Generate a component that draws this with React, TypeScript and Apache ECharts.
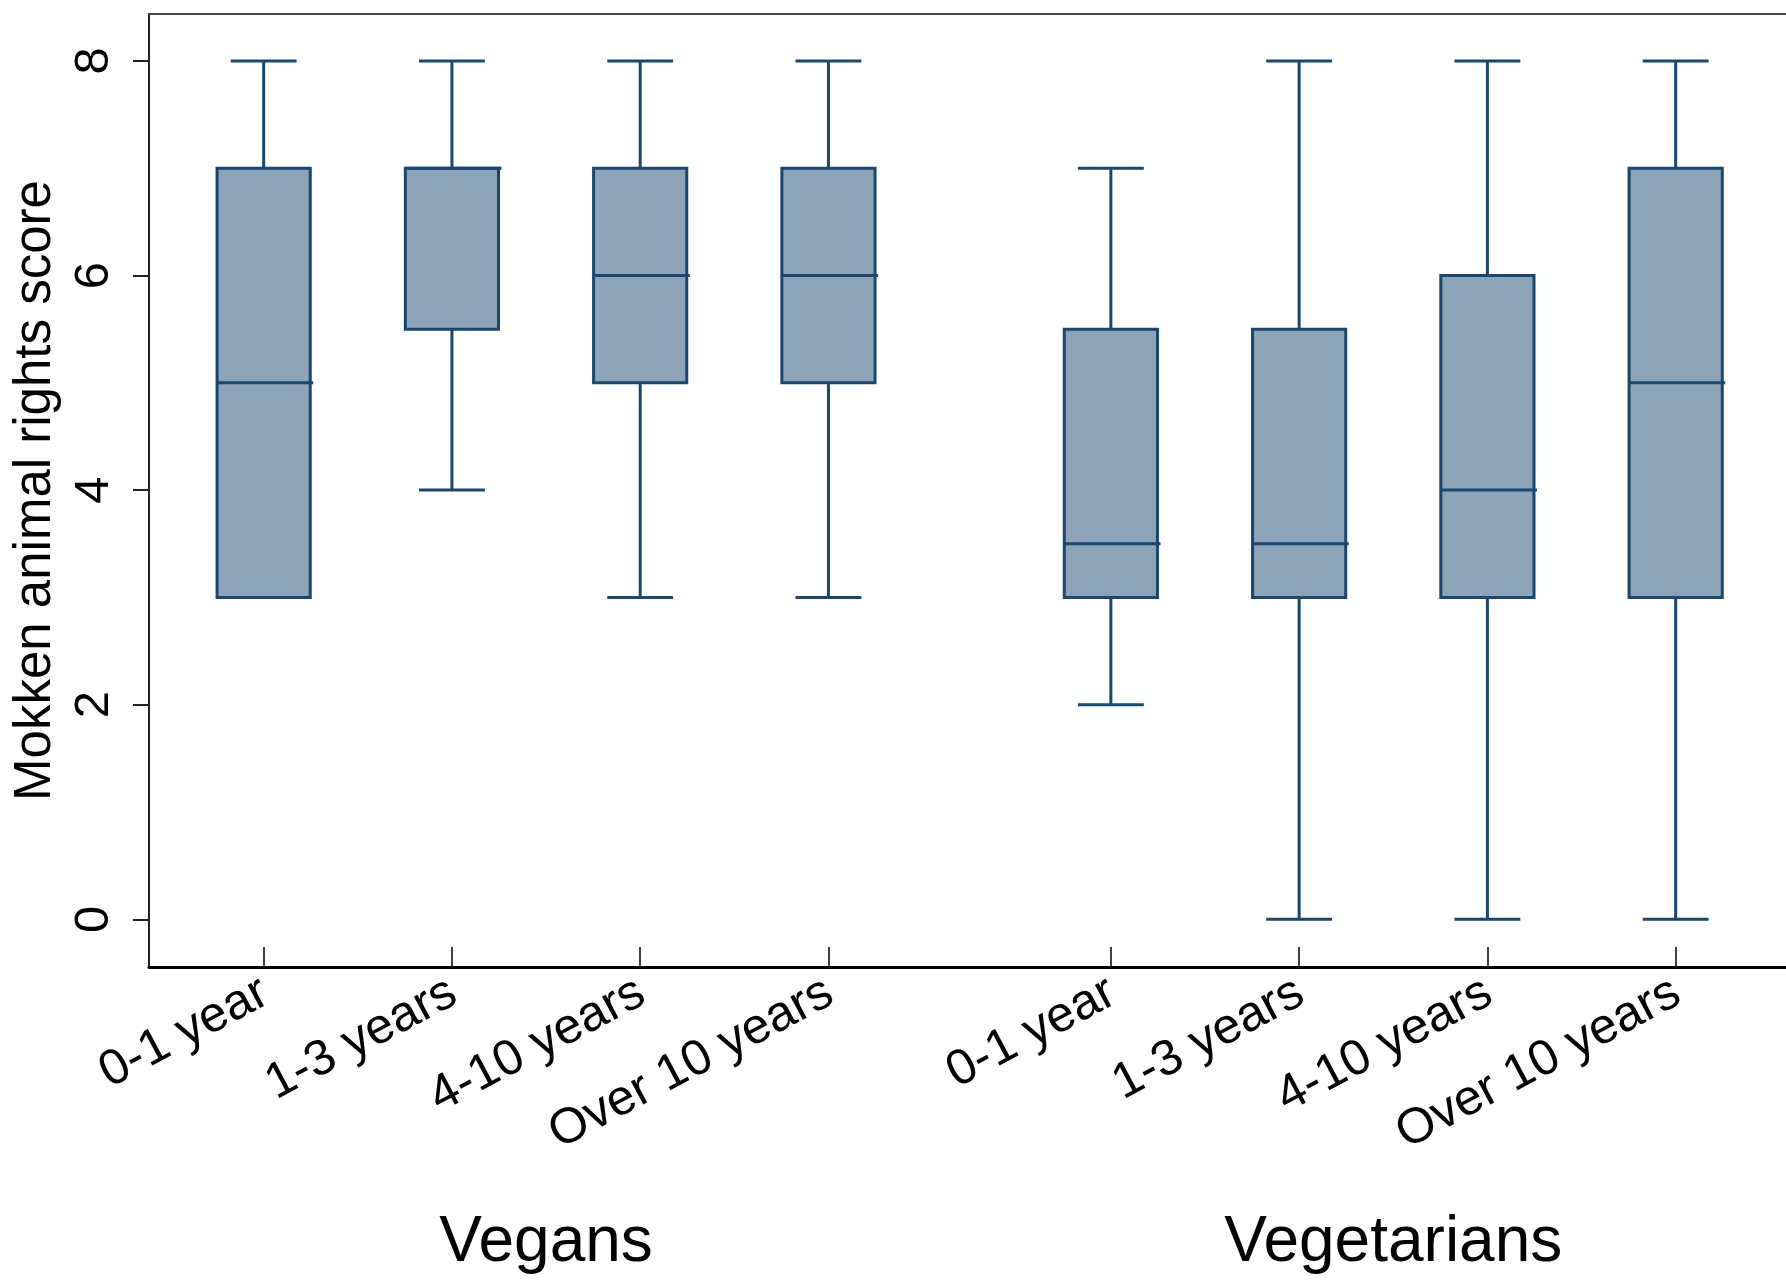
import React, { useEffect, useRef } from "react";
import * as echarts from "echarts";

// Category labels (same for both groups)
const durationLabels = ["0-1 year", "1-3 years", "4-10 years", "Over 10 years"];
const groupNames = ["Vegans", "Vegetarians"];

// Box statistics: [min, Q1, median, Q3, max]
const vegansStats = [
  [3, 3, 5, 7, 8],
  [4, 5.5, 7, 7, 8],
  [3, 5, 6, 7, 8],
  [3, 5, 6, 7, 8],
];
const vegetariansStats = [
  [2, 3, 3.5, 5.5, 7],
  [0, 3, 3.5, 5.5, 8],
  [0, 3, 4, 6, 8],
  [0, 3, 5, 7, 8],
];

const yTicks = [0, 2, 4, 6, 8];

// x positions of the boxes on the value axis (groups separated by a half-slot gap)
const veganX = [1, 2, 3, 4];
const vegetarianX = [5.5, 6.5, 7.5, 8.5];
const groupCenters = [2.5, 7];

const FONT = "'Liberation Sans', Arial, 'DejaVu Sans', sans-serif";
const FILL = "#8da3b7";
const STROKE = "#1a476f";

export default function App() {
  const ref = useRef<HTMLDivElement>(null);

  useEffect(() => {
    document.body.style.margin = "0";
    if (!ref.current) return;
    const chart = echarts.init(ref.current, null, { renderer: "svg" });

    const allX = [...veganX, ...vegetarianX];
    const allLabels = [...durationLabels, ...durationLabels];
    const data = [
      ...vegansStats.map((s, i) => [veganX[i], ...s]),
      ...vegetariansStats.map((s, i) => [vegetarianX[i], ...s]),
    ];

    const findLabel = (v: number, xs: number[], labels: string[]) => {
      for (let i = 0; i < xs.length; i++) {
        if (Math.abs(xs[i] - v) < 1e-6) return labels[i];
      }
      return "";
    };

    const xMin = 0.391;
    const xMax = 9.086;

    const option: any = {
      animation: false,
      backgroundColor: "#ffffff",
      grid: {
        left: 149,
        right: 0,
        top: 14,
        bottom: 318,
        containLabel: false,
        outerBoundsMode: "none",
      },
      xAxis: [
        {
          type: "value",
          position: "bottom",
          min: xMin,
          max: xMax,
          splitLine: { show: false },
          axisLine: { show: true, onZero: false, lineStyle: { color: "#000", width: 3 } },
          axisTick: {
            show: true,
            inside: true,
            length: 20,
            customValues: allX,
            lineStyle: { color: "#000", width: 1.5 },
          },
          axisLabel: {
            show: true,
            customValues: allX,
            rotate: 28,
            margin: 20,
            fontSize: 50,
            fontFamily: FONT,
            color: "#000",
            formatter: (v: number) => findLabel(v, allX, allLabels),
          },
        },
        {
          type: "value",
          position: "top",
          min: xMin,
          max: xMax,
          splitLine: { show: false },
          axisLine: { show: true, onZero: false, lineStyle: { color: "#444", width: 2 } },
          axisTick: { show: false },
          axisLabel: { show: false },
        },
        {
          type: "value",
          position: "bottom",
          min: xMin,
          max: xMax,
          splitLine: { show: false },
          axisLine: { show: false, onZero: false },
          axisTick: { show: false },
          axisLabel: {
            show: true,
            customValues: groupCenters,
            margin: 240,
            fontSize: 64,
            fontFamily: FONT,
            color: "#000",
            formatter: (v: number) => findLabel(v, groupCenters, groupNames),
          },
        },
      ],
      yAxis: {
        type: "value",
        min: -0.445,
        max: 8.438,
        splitLine: { show: false },
        axisLine: { show: true, onZero: false, lineStyle: { color: "#222", width: 2 } },
        axisTick: {
          show: true,
          length: 16,
          customValues: yTicks,
          lineStyle: { color: "#222", width: 2 },
        },
        axisLabel: {
          show: true,
          customValues: yTicks,
          rotate: 90,
          margin: 34,
          fontSize: 49,
          fontFamily: FONT,
          color: "#000",
        },
        name: "Mokken animal rights score",
        nameLocation: "middle",
        nameRotate: 90,
        nameGap: 76,
        nameTextStyle: { fontSize: 51, fontFamily: FONT, color: "#000" },
      },
      series: [
        {
          type: "custom",
          xAxisIndex: 0,
          yAxisIndex: 0,
          data,
          clip: false,
          renderItem: (params: any, api: any) => {
            const x = api.value(0);
            const lo = api.coord([x, api.value(1)]);
            const q1 = api.coord([x, api.value(2)]);
            const med = api.coord([x, api.value(3)]);
            const q3 = api.coord([x, api.value(4)]);
            const hi = api.coord([x, api.value(5)]);
            const cx = lo[0];
            const boxW = api.size([0.495, 0])[0];
            const capW = api.size([0.35, 0])[0];
            const lineStyle = { stroke: STROKE, lineWidth: 3, fill: null };
            const children: any[] = [];
            if (api.value(1) < api.value(2)) {
              children.push({
                type: "line",
                shape: { x1: cx, y1: q1[1], x2: cx, y2: lo[1] },
                style: lineStyle,
              });
              children.push({
                type: "line",
                shape: { x1: cx - capW / 2, y1: lo[1], x2: cx + capW / 2, y2: lo[1] },
                style: lineStyle,
              });
            }
            if (api.value(5) > api.value(4)) {
              children.push({
                type: "line",
                shape: { x1: cx, y1: q3[1], x2: cx, y2: hi[1] },
                style: lineStyle,
              });
              children.push({
                type: "line",
                shape: { x1: cx - capW / 2, y1: hi[1], x2: cx + capW / 2, y2: hi[1] },
                style: lineStyle,
              });
            }
            children.push({
              type: "rect",
              shape: { x: cx - boxW / 2, y: q3[1], width: boxW, height: q1[1] - q3[1] },
              style: { fill: FILL, stroke: STROKE, lineWidth: 3 },
            });
            children.push({
              type: "line",
              shape: { x1: cx - boxW / 2, y1: med[1], x2: cx + boxW / 2 + 3, y2: med[1] },
              style: lineStyle,
            });
            return { type: "group", children };
          },
        },
      ],
    };

    chart.setOption(option);
    return () => chart.dispose();
  }, []);

  return <div ref={ref} style={{ width: 1786, height: 1285 }} />;
}
